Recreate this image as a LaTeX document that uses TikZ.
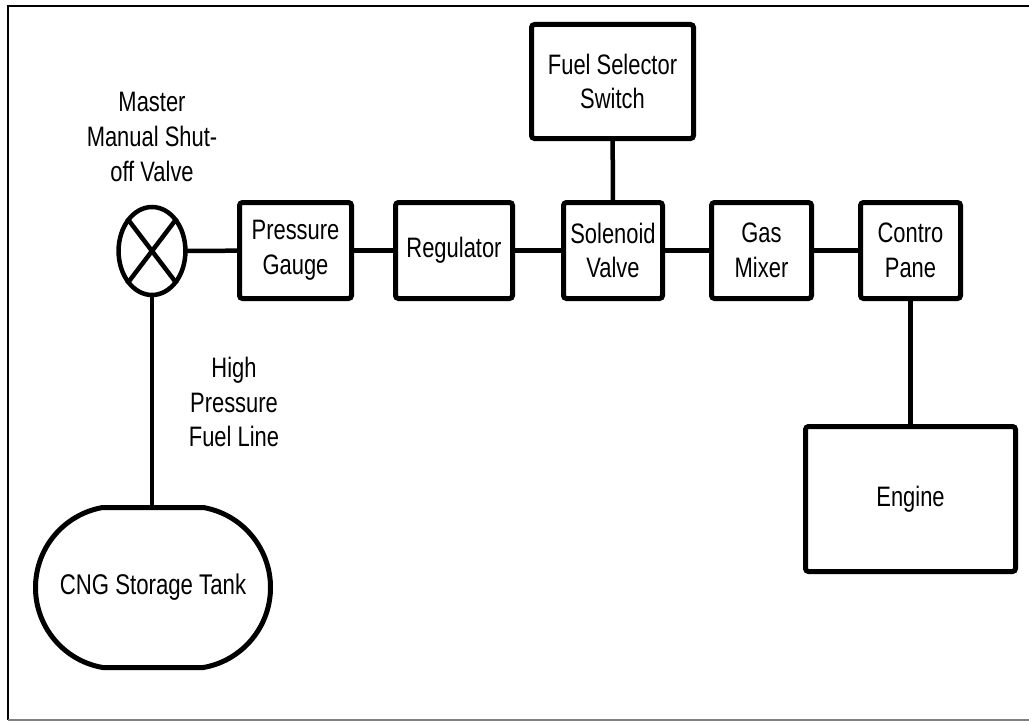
\documentclass[tikz,border=0pt]{standalone}
\usepackage{fontspec}
\setmainfont[FakeStretch=0.78]{Liberation Sans}
\usepackage{tikz}
\usetikzlibrary{shapes.misc}
\begin{document}
\begin{tikzpicture}[
 font=\fontsize{8}{9.9}\selectfont,
 block/.style={draw,line width=0.5mm,rounded corners=0.3mm,inner sep=0pt,minimum width=10mm,minimum height=9.6mm,align=center},
 label/.style={align=center,inner sep=0pt},
 pipe/.style={line width=0.45mm}
]
\useasboundingbox (0,0) rectangle (10.29,7.21);
\draw[line width=0.15mm] (0.08,0.01) -- (0.08,7.15) -- (10.29,7.15);
\draw[line width=0.15mm,gray] (0.08,0.01) -- (10.29,0.01);

\node[draw,circle,pipe,inner sep=0pt,minimum size=8.8mm,xscale=0.76,yscale=1] (valve) at (1.52,4.70) {};
\draw[pipe] (valve.north west) -- (valve.south east);
\draw[pipe] (valve.north east) -- (valve.south west);
\node[label] (valvelabel) at (1.52,5.84) {Master\\Manual Shut-\\off Valve};
\node[label] (linelabel) at (2.34,3.19) {High\\Pressure\\Fuel Line};

\node[block,minimum width=11.2mm] (gauge) at (2.955,4.705) {Pressure\\Gauge};
\node[block,minimum width=11.7mm] (regulator) at (4.54,4.705) {Regulator};
\node[block,minimum width=9.9mm] (solenoid) at (6.13,4.705) {Solenoid\\Valve};
\node[block] (mixer) at (7.615,4.705) {Gas\\Mixer};
\node[block] (panel) at (9.105,4.705) {Contro\\Pane};
\node[block,minimum width=16.2mm,minimum height=11.4mm] (selector) at (6.125,6.395) {Fuel Selector\\Switch};
\node[block,minimum width=21mm,minimum height=14.5mm] (engine) at (9.105,2.22) {Engine};
\node[draw,rounded rectangle,rounded rectangle arc length=160,line width=0.5mm,inner sep=0pt,minimum width=23.5mm,minimum height=16mm] (tank) at (1.53,1.335) {\fontsize{8.1}{9.9}\selectfont CNG Storage Tank};

\draw[pipe] (valve) -- (gauge);
\draw[pipe] (gauge) -- (regulator);
\draw[pipe] (regulator) -- (solenoid);
\draw[pipe] (solenoid) -- (mixer);
\draw[pipe] (mixer) -- (panel);
\draw[pipe] (selector) -- (solenoid);
\draw[pipe] (panel) -- (panel|-engine.north);
\draw[pipe] (valve) -- (valve|-tank.north);
\end{tikzpicture}
\end{document}
